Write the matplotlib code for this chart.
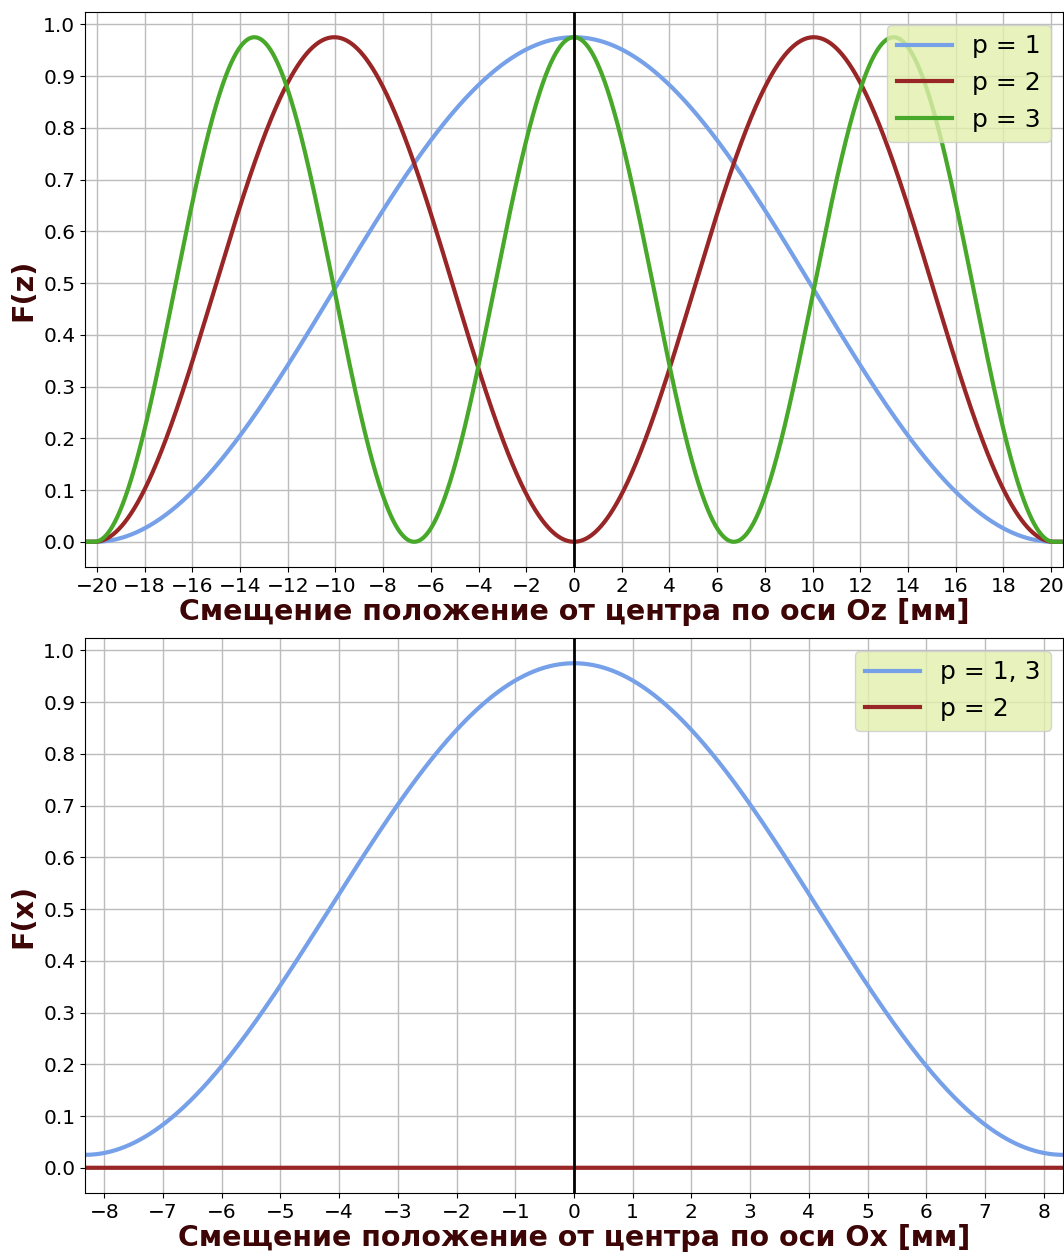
import numpy as np
import matplotlib
matplotlib.use('Agg')
import matplotlib.pyplot as plt

# параметры распределения поля вдоль Oz
z_half = 20.1          # полудлина резонатора [мм]
z_span = 20.4          # область построения [мм]
amp = 0.975            # максимум F
modes_z = [1, 2, 3]
colors_z = ['#76a0e8', '#992626', '#47a82a']
labels_z = ['p = 1', 'p = 2', 'p = 3']

# параметры распределения вдоль Ox
x_half = 8.33          # полуширина [мм]
x_floor = 0.025        # значение F(x) на краю
labels_x = ['p = 1, 3', 'p = 2']
colors_x = ['#76a0e8', '#992626']

label_color = '#3d0505'
legend_face = '#e2efac'


def mode_z(z, p):  # F(z) для моды p
    f = amp * np.sin(p * np.pi * (z + z_half) / (2 * z_half)) ** 2
    f[np.abs(z) > z_half] = 0.0
    return f


def mode_x(x):  # F(x) для мод p = 1, 3
    return x_floor + (amp - x_floor) * np.cos(np.pi * x / (2 * x_half)) ** 2


fig = plt.figure(figsize=(10.64, 12.52), dpi=100)
ax1 = fig.add_axes([85 / 1064, 1 - 567 / 1252, 978 / 1064, 555 / 1252])
ax2 = fig.add_axes([85 / 1064, 1 - 1193 / 1252, 978 / 1064, 555 / 1252])

z = np.linspace(-z_span, z_span, 2000)
for p, c, lab in zip(modes_z, colors_z, labels_z):
    ax1.plot(z, mode_z(z, p), color=c, lw=3, label=lab)
ax1.axvline(0, color='black', lw=2)
ax1.set_xlim(-20.5, 20.5)
ax1.set_xticks(np.arange(-20, 21, 2))
ax1.set_yticks(np.arange(0, 1.01, 0.1))
ax1.grid(True, color='#bcbcbc', lw=1)
ax1.tick_params(labelsize=14.5)
ax1.set_xlabel('Смещение положение от центра по оси Oz [мм]', fontsize=20.5,
               fontweight='bold', color=label_color, labelpad=2)
ax1.set_ylabel('F(z)', fontsize=20.5, fontweight='bold', color=label_color, labelpad=4)
ax1.legend(loc='upper right', fontsize=18, facecolor=legend_face, framealpha=0.8,
           handlelength=2.2)

x = np.linspace(-x_half, x_half, 2000)
ax2.plot(x, mode_x(x), color=colors_x[0], lw=3, label=labels_x[0])
ax2.plot(x, np.zeros_like(x), color=colors_x[1], lw=3, label=labels_x[1])
ax2.axvline(0, color='black', lw=2)
ax2.set_xlim(-x_half, x_half)
ax2.set_xticks(np.arange(-8, 9, 1))
ax2.set_yticks(np.arange(0, 1.01, 0.1))
ax2.grid(True, color='#bcbcbc', lw=1)
ax2.tick_params(labelsize=14.5)
ax2.set_xlabel('Смещение положение от центра по оси Ox [мм]', fontsize=20.5,
               fontweight='bold', color=label_color, labelpad=2)
ax2.set_ylabel('F(x)', fontsize=20.5, fontweight='bold', color=label_color, labelpad=4)
ax2.legend(loc='upper right', fontsize=18, facecolor=legend_face, framealpha=0.8,
           handlelength=2.2)

fig.savefig('out.png', dpi=100)
